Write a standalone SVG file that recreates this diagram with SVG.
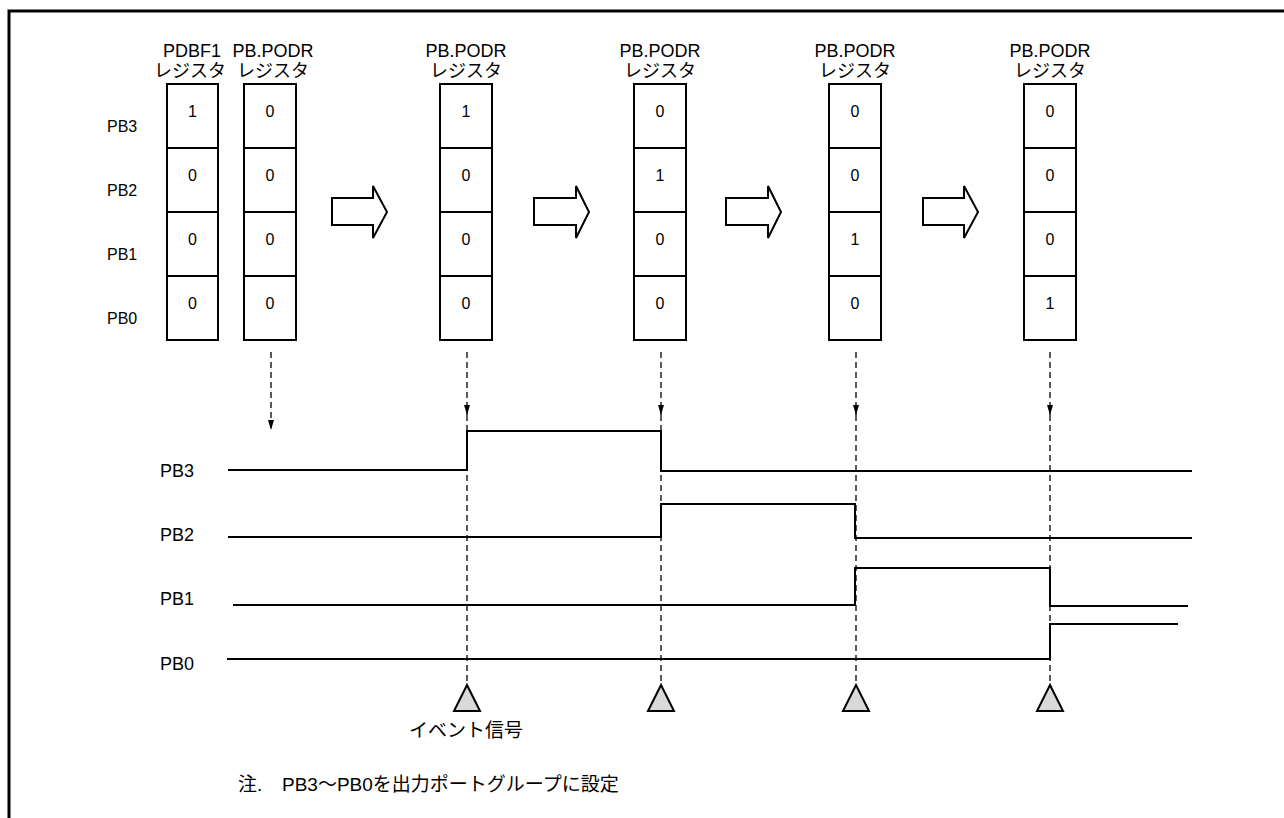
<svg xmlns="http://www.w3.org/2000/svg" width="1284" height="818" viewBox="0 0 1284 818">
<style>
text{font-family:"Liberation Sans","Noto Sans CJK JP",sans-serif;font-size:16px;fill:#000}
.c{text-anchor:middle}
.h{font-size:18px}
.w{font-size:18px}
.j{font-size:19px}
.cell{fill:#fff;stroke:#000;stroke-width:2}
.blk{fill:#fff;stroke:#000;stroke-width:2;stroke-linejoin:miter}
.dash{fill:none;stroke:#000;stroke-width:1.3;stroke-dasharray:6 4}
.wave{fill:none;stroke:#000;stroke-width:2}
.tri{fill:#d9d9d9;stroke:#000;stroke-width:2}
</style>
<defs>
<marker id="ah" viewBox="0 0 10 6" refX="10" refY="3" markerWidth="10" markerHeight="6" markerUnits="userSpaceOnUse" orient="auto">
<path d="M0,0 L10,3 L0,6 Z" fill="#000"/>
</marker>
</defs>
<path d="M9,818 V11 H1284" fill="none" stroke="#000" stroke-width="3"/>
<g id="rowlabels">
<text x="107" y="132">PB3</text>
<text x="107" y="196">PB2</text>
<text x="107" y="260">PB1</text>
<text x="107" y="324">PB0</text>
</g>
<g id="reg1">
<text class="c h" x="192" y="57">PDBF1</text>
<text class="c h" x="190" y="77">レジスタ</text>
<rect class="cell" x="167" y="84" width="51" height="64"/><rect class="cell" x="167" y="148" width="51" height="64"/><rect class="cell" x="167" y="212" width="51" height="64"/><rect class="cell" x="167" y="276" width="51" height="64"/>
<text class="c" x="192.5" y="117">1</text><text class="c" x="192.5" y="181">0</text><text class="c" x="192.5" y="245">0</text><text class="c" x="192.5" y="309">0</text>
</g>
<g id="reg2">
<text class="c h" x="273" y="57">PB.PODR</text>
<text class="c h" x="273" y="77">レジスタ</text>
<rect class="cell" x="244" y="84" width="52" height="64"/><rect class="cell" x="244" y="148" width="52" height="64"/><rect class="cell" x="244" y="212" width="52" height="64"/><rect class="cell" x="244" y="276" width="52" height="64"/>
<text class="c" x="270" y="117">0</text><text class="c" x="270" y="181">0</text><text class="c" x="270" y="245">0</text><text class="c" x="270" y="309">0</text>
</g>
<g id="reg3">
<text class="c h" x="466" y="57">PB.PODR</text>
<text class="c h" x="466" y="77">レジスタ</text>
<rect class="cell" x="440" y="84" width="52" height="64"/><rect class="cell" x="440" y="148" width="52" height="64"/><rect class="cell" x="440" y="212" width="52" height="64"/><rect class="cell" x="440" y="276" width="52" height="64"/>
<text class="c" x="466" y="117">1</text><text class="c" x="466" y="181">0</text><text class="c" x="466" y="245">0</text><text class="c" x="466" y="309">0</text>
</g>
<g id="reg4">
<text class="c h" x="660" y="57">PB.PODR</text>
<text class="c h" x="660" y="77">レジスタ</text>
<rect class="cell" x="634" y="84" width="52" height="64"/><rect class="cell" x="634" y="148" width="52" height="64"/><rect class="cell" x="634" y="212" width="52" height="64"/><rect class="cell" x="634" y="276" width="52" height="64"/>
<text class="c" x="660" y="117">0</text><text class="c" x="660" y="181">1</text><text class="c" x="660" y="245">0</text><text class="c" x="660" y="309">0</text>
</g>
<g id="reg5">
<text class="c h" x="855" y="57">PB.PODR</text>
<text class="c h" x="855" y="77">レジスタ</text>
<rect class="cell" x="829" y="84" width="52" height="64"/><rect class="cell" x="829" y="148" width="52" height="64"/><rect class="cell" x="829" y="212" width="52" height="64"/><rect class="cell" x="829" y="276" width="52" height="64"/>
<text class="c" x="855" y="117">0</text><text class="c" x="855" y="181">0</text><text class="c" x="855" y="245">1</text><text class="c" x="855" y="309">0</text>
</g>
<g id="reg6">
<text class="c h" x="1050" y="57">PB.PODR</text>
<text class="c h" x="1050" y="77">レジスタ</text>
<rect class="cell" x="1024" y="84" width="52" height="64"/><rect class="cell" x="1024" y="148" width="52" height="64"/><rect class="cell" x="1024" y="212" width="52" height="64"/><rect class="cell" x="1024" y="276" width="52" height="64"/>
<text class="c" x="1050" y="117">0</text><text class="c" x="1050" y="181">0</text><text class="c" x="1050" y="245">0</text><text class="c" x="1050" y="309">1</text>
</g>
<g id="blockarrows">
<polygon class="blk" points="332,198 373,198 373,186 387,212 373,238 373,225 332,225"/>
<polygon class="blk" points="534,198 576,198 576,186 589,212 576,238 576,225 534,225"/>
<polygon class="blk" points="726,198 768,198 768,186 781,212 768,238 768,225 726,225"/>
<polygon class="blk" points="923,198 964,198 964,186 978,212 964,238 964,225 923,225"/>
</g>
<g id="connectors">
<line class="dash" x1="271" y1="352" x2="271" y2="430" marker-end="url(#ah)"/>
<line class="dash" x1="467" y1="352" x2="467" y2="415" marker-end="url(#ah)"/>
<line class="dash" x1="467" y1="415" x2="467" y2="685"/>
<line class="dash" x1="661" y1="352" x2="661" y2="415" marker-end="url(#ah)"/>
<line class="dash" x1="661" y1="415" x2="661" y2="685"/>
<line class="dash" x1="856" y1="352" x2="856" y2="415" marker-end="url(#ah)"/>
<line class="dash" x1="856" y1="415" x2="856" y2="685"/>
<line class="dash" x1="1050" y1="352" x2="1050" y2="415" marker-end="url(#ah)"/>
<line class="dash" x1="1050" y1="415" x2="1050" y2="685"/>
</g>
<g id="waveforms">
<text class="w" x="160" y="477">PB3</text>
<text class="w" x="160" y="541">PB2</text>
<text class="w" x="160" y="605">PB1</text>
<text class="w" x="160" y="670">PB0</text>
<path class="wave" d="M228,470 H467 V431 H661 V471 H1192"/>
<path class="wave" d="M228,537 H661 V504 H855 V538 H1192"/>
<path class="wave" d="M233,605 H855 V568 H1050 V606 H1188"/>
<path class="wave" d="M227,659 H1050 V624 H1178"/>
</g>
<g id="events">
<polygon class="tri" points="467,685 480,711 454,711"/>
<polygon class="tri" points="661,685 674,711 648,711"/>
<polygon class="tri" points="856,685 869,711 843,711"/>
<polygon class="tri" points="1050,685 1063,711 1037,711"/>
<text class="c j" x="466" y="737">イベント信号</text>
</g>
<g id="note">
<text class="j" x="238" y="791">注.<tspan x="282">PB3～PB0を出力ポートグループに設定</tspan></text>
</g>
</svg>
